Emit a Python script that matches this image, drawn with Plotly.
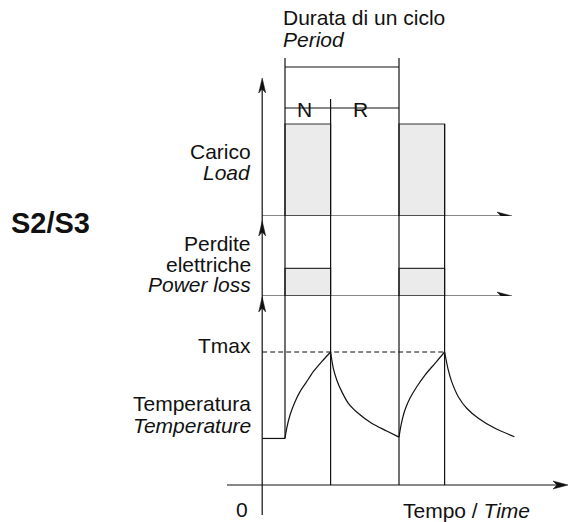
import plotly.graph_objects as go

W, H = 576, 522
FONT = "Liberation Sans, Arial, sans-serif"
INK = "#111111"
FILL = "#ebebeb"
FS = 21

# ---------------- data ----------------
cycle_start = [1.0, 6.0]      # start of each duty cycle (time units)
on_duration = 2.0             # N : operation at constant load
rest_duration = 3.0           # R : rest (de-energised)
load_level = 1.0              # load during N
loss_level = 0.3              # electrical losses during N
temp_max = 100                # Tmax
phase_labels = ["N", "R"]

# temperature (time units, relative temperature)
temp_t = [0, 1.0, 1.075, 1.22, 1.44, 1.66, 1.95, 2.24, 2.61, 3.0,
          3.12, 3.27, 3.49, 3.78, 4.21, 4.80, 5.46, 6.0,
          6.09, 6.26, 6.48, 6.78, 7.14, 7.58, 8.0,
          8.16, 8.31, 8.60, 8.97, 9.48, 10.21, 11.06]
temp_val = [35, 35, 42.6, 52.6, 62.6, 70.2, 77.7, 85.2, 92.7, 100,
            87.7, 79, 70.2, 61.4, 53.9, 46.4, 40.6, 36,
            45.1, 56.4, 65.2, 73.9, 82.7, 91.5, 100,
            86.5, 77.7, 66.4, 57.7, 50.2, 42.6, 36.3]

# ---------------- layout scales ----------------
X0_PX, X_UNIT = 262.2, 22.8                      # time axis: pixel of t=0, pixels per unit
x_range = [-X0_PX / X_UNIT, (W - X0_PX) / X_UNIT]


def dom(top_px, bot_px):
    return [1 - bot_px / H, 1 - top_px / H]


P1 = 92.0          # pixels per load unit (panels 1 and 2)
P3 = 1.33          # pixels per temperature unit
y1_range = [0, (216 - 58) / P1]
y2_range = [0, (296 - 216) / P1]
y3_range = [-(H - 485) / P3, (485 - 296) / P3]

fig = go.Figure()

# temperature trace, split at the switching instants so the corners stay sharp
breaks = set()
for s in cycle_start:
    breaks.add(s)
    breaks.add(s + on_duration)
seg_t, seg_v = [temp_t[0]], [temp_val[0]]
segments = []
for t, v in zip(temp_t[1:], temp_val[1:]):
    seg_t.append(t)
    seg_v.append(v)
    if t in breaks:
        segments.append((seg_t, seg_v))
        seg_t, seg_v = [t], [v]
if len(seg_t) > 1:
    segments.append((seg_t, seg_v))
for st, sv in segments:
    fig.add_trace(go.Scatter(x=st, y=sv, xaxis="x", yaxis="y3", mode="lines",
                             line=dict(color=INK, width=1.2, shape="spline" if len(st) > 2 else "linear",
                                       smoothing=0.8),
                             hoverinfo="skip", showlegend=False))

shapes = []


def seg(x0, y0, x1, y1, yref, width=1.2, color=INK, dash=None):
    d = dict(type="line", xref="x", yref=yref, x0=x0, y0=y0, x1=x1, y1=y1,
             line=dict(color=color, width=width))
    if dash:
        d["line"]["dash"] = dash
    shapes.append(d)


def arrow(x, y, yref, direction):
    if direction == "up":
        path = "M0,0 L-3.5,-15 L0,-11 L3.5,-15 Z"
    else:
        path = "M0,0 L-15,4 L-11,0 L-15,-4 Z"
    shapes.append(dict(type="path", xref="x", yref=yref, xsizemode="pixel", ysizemode="pixel",
                       xanchor=x, yanchor=y, path=path, fillcolor=INK,
                       line=dict(color=INK, width=0.5)))


# load and loss blocks
for s in cycle_start:
    shapes.append(dict(type="rect", xref="x", yref="y", x0=s, x1=s + on_duration, y0=0, y1=load_level,
                       fillcolor=FILL, line=dict(color="#333333", width=1.2), layer="below"))
    shapes.append(dict(type="rect", xref="x", yref="y2", x0=s, x1=s + on_duration, y0=0, y1=loss_level,
                       fillcolor=FILL, line=dict(color="#333333", width=1.2), layer="below"))

# period bracket above the first cycle
period = on_duration + rest_duration
br_top, br_bot, div_top = (216 - 67) / P1, (216 - 108) / P1, (216 - 99) / P1
s0 = cycle_start[0]
seg(s0, br_top, s0 + period, br_top, "y")
seg(s0, br_bot, s0 + period, br_bot, "y")

# vertical switching lines through the three panels
t_start_temp = temp_val[temp_t.index(cycle_start[0])]
for i, s in enumerate(cycle_start):
    e = s + on_duration
    seg(s, 0, s, y1_range[1], "y")
    seg(s, 0, s, y2_range[1], "y2")
    seg(s, 0 if i > 0 else t_start_temp, s, y3_range[1], "y3")
    seg(e, 0, e, div_top if i == 0 else load_level, "y")
    seg(e, 0, e, y2_range[1], "y2")
    seg(e, 0, e, y3_range[1], "y3")

# Tmax dashed
seg(0, temp_max, cycle_start[1] + on_duration, temp_max, "y3", width=1, dash="5px,3px")

# axes
tip1 = (216 - 78) / P1
tip2 = (296 - 221) / P1
tip3 = (485 - 297) / P3
seg(0, 0, 0, tip1 - 0.05, "y")
seg(0, 0, 0, y2_range[1], "y2")
seg(0, -(515 - 485) / P3, 0, y3_range[1], "y3")
arrow(0, tip1, "y", "up")
arrow(0, tip2, "y2", "up")
arrow(0, tip3, "y3", "up")

x_tip = (512 - X0_PX) / X_UNIT
seg(0, 0, x_tip - 0.3, 0, "y")
seg(0, 0, x_tip - 0.3, 0, "y2")
arrow(x_tip, 0, "y", "right")
arrow(x_tip, 0, "y2", "right")

xb0 = (227 - X0_PX) / X_UNIT
xb1 = (568 - X0_PX) / X_UNIT
seg(xb0, 0, xb1 - 0.3, 0, "y3")
arrow(xb1, 0, "y3", "right")

# ---------------- texts ----------------
ann = []


def label(text, x, y, xanchor="right", size=FS, yanchor="middle"):
    ann.append(dict(text=text, xref="paper", yref="paper", x=x / W, y=1 - y / H,
                    xanchor=xanchor, yanchor=yanchor, showarrow=False,
                    font=dict(family=FONT, size=size, color=INK)))


label("Durata di un ciclo", 281, 18, xanchor="left")
label("<i>Period</i>", 281, 40, xanchor="left")
ann.append(dict(text=phase_labels[0], xref="x", yref="paper", x=s0 + 0.85, y=1 - 96 / H,
                showarrow=False, font=dict(family=FONT, size=FS, color=INK)))
ann.append(dict(text=phase_labels[1], xref="x", yref="paper", x=s0 + on_duration + 1.3, y=1 - 96 / H,
                showarrow=False, font=dict(family=FONT, size=FS, color=INK)))
label("Carico", 253, 151)
label("<i>Load</i>", 253, 172)
label("<b>S2/S3</b>", 9, 223, xanchor="left", size=29)
label("Perdite", 253, 244)
label("elettriche", 253, 264)
label("<i>Power loss</i>", 253, 284)
label("Tmax", 253, 345)
label("Temperatura", 253, 403)
label("<i>Temperature</i>", 253, 425)
label("0", 242, 509, xanchor="center")
label("Tempo / <i>Time</i>", 401, 510, xanchor="left")

fig.update_layout(
    width=W, height=H,
    margin=dict(l=0, r=0, t=0, b=0, pad=0),
    paper_bgcolor="white", plot_bgcolor="white",
    showlegend=False,
    xaxis=dict(range=x_range, visible=False, domain=[0, 1], fixedrange=True),
    yaxis=dict(range=y1_range, domain=dom(58, 216), visible=False, anchor="x", fixedrange=True),
    yaxis2=dict(range=y2_range, domain=dom(216, 296), visible=False, anchor="x", fixedrange=True),
    yaxis3=dict(range=y3_range, domain=dom(296, H), visible=False, anchor="x", fixedrange=True),
    shapes=shapes,
    annotations=ann,
)

fig.write_html("out.html", config={"displayModeBar": False},
               post_script="document.body.style.margin='0';document.body.style.overflow='hidden';")
